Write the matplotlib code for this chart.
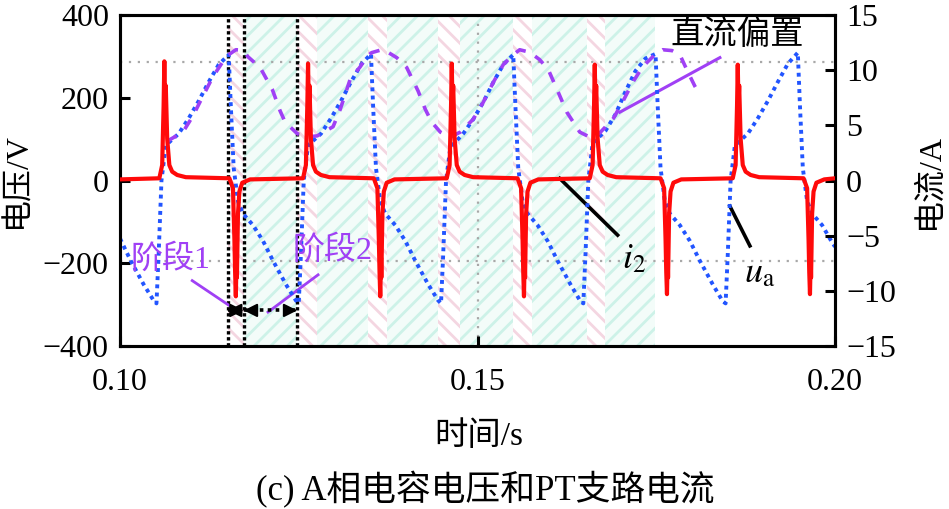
import numpy as np
import matplotlib
matplotlib.use("Agg")
import matplotlib.pyplot as plt

plt.rcParams['font.family'] = ['Liberation Serif', 'Noto Sans CJK SC', 'DejaVu Sans']
plt.rcParams['mathtext.fontset'] = 'stix'
plt.rcParams['hatch.linewidth'] = 2.0
plt.rcParams['axes.unicode_minus'] = True

# u_a: capacitor voltage (V)
ua_t = [0.1000, 0.1015, 0.1033, 0.1047,
        0.1051, 0.1054, 0.1058, 0.1064, 0.1082, 0.1096, 0.1110, 0.1124, 0.1138, 0.1152,
        0.1155, 0.1159, 0.1165, 0.1172, 0.1186, 0.1200, 0.1214, 0.1232, 0.1246,
        0.1250, 0.1253, 0.1257, 0.1263, 0.1281, 0.1295, 0.1309, 0.1323, 0.1337, 0.1351,
        0.1354, 0.1358, 0.1364, 0.1371, 0.1385, 0.1399, 0.1413, 0.1431, 0.1445,
        0.1449, 0.1452, 0.1456, 0.1462, 0.1480, 0.1494, 0.1508, 0.1522, 0.1536, 0.1550,
        0.1553, 0.1557, 0.1563, 0.1570, 0.1584, 0.1598, 0.1612, 0.1630, 0.1644,
        0.1648, 0.1651, 0.1655, 0.1661, 0.1679, 0.1693, 0.1707, 0.1721, 0.1735, 0.1749,
        0.1752, 0.1756, 0.1762, 0.1769, 0.1783, 0.1797, 0.1811, 0.1829, 0.1843,
        0.1847, 0.1850, 0.1854, 0.1860, 0.1878, 0.1892, 0.1906, 0.1920, 0.1934, 0.1948,
        0.1951, 0.1955, 0.1961, 0.1968, 0.1982, 0.1996, 0.2000]
ua_v = [-140, -194, -251, -290,
        -297, -180, 0, 85, 113, 150, 192, 238, 280, 304,
        180, 30, -50, -80, -108, -146, -194, -251, -290,
        -297, -180, 0, 85, 113, 150, 192, 238, 280, 306,
        180, 30, -50, -80, -108, -146, -194, -251, -290,
        -297, -180, 0, 80, 113, 148, 189, 237, 280, 304,
        180, 30, -50, -80, -108, -146, -194, -251, -292,
        -297, -180, 0, 90, 120, 160, 215, 265, 295, 306,
        180, 30, -50, -80, -108, -146, -194, -251, -292,
        -297, -180, 0, 85, 113, 150, 192, 238, 282, 309,
        180, 30, -50, -80, -108, -150, -160]

# DC bias trace (dashed purple)
dc_t = [0.1066, 0.1088, 0.1102, 0.1116, 0.1130, 0.1143, 0.1152, 0.1162, 0.1172,
        0.1179, 0.1196, 0.1213, 0.1224, 0.1231, 0.1248, 0.1262, 0.1276, 0.1298,
        0.1308, 0.1322, 0.1336, 0.1345, 0.1352, 0.1368, 0.1387, 0.1401, 0.1417,
        0.1427, 0.1436, 0.1448, 0.1462, 0.1476, 0.1494, 0.1508, 0.1522, 0.1536,
        0.1550, 0.1559, 0.1573, 0.1587, 0.1599, 0.1613, 0.1625, 0.1643, 0.1657,
        0.1671, 0.1690, 0.1703, 0.1717, 0.1731, 0.1748, 0.1759, 0.1772, 0.1783,
        0.1794, 0.1804, 0.1811]
dc_v = [95, 117, 156, 204, 251, 285, 304, 316, 315,
        299, 273, 220, 168, 141, 113, 105, 108, 130,
        172, 245, 275, 299, 309, 317, 297, 273, 216,
        172, 141, 117, 105, 117, 148, 189, 237, 280,
        304, 316, 310, 292, 268, 213, 165, 117, 105,
        115, 150, 190, 237, 275, 304, 316, 314, 304,
        263, 228, 208]

# i_2: PT branch current (A)
i2_t = [0.1000,
        0.1055, 0.1059, 0.1061, 0.1062, 0.1063, 0.1064, 0.1066, 0.1069, 0.1073, 0.1080, 0.1092,
        0.1153, 0.1158, 0.1160, 0.1161, 0.1162, 0.1163, 0.11635, 0.1165, 0.1167, 0.1171, 0.1182,
        0.1256, 0.1260, 0.1262, 0.1263, 0.1264, 0.1265, 0.1267, 0.1270, 0.1274, 0.1281, 0.1293,
        0.1355, 0.1360, 0.1362, 0.1363, 0.1364, 0.1365, 0.13655, 0.1367, 0.1369, 0.1373, 0.1384,
        0.1457, 0.1461, 0.1463, 0.1464, 0.1465, 0.1466, 0.1468, 0.1471, 0.1475, 0.1482, 0.1494,
        0.1556, 0.1561, 0.1563, 0.1564, 0.1565, 0.1566, 0.15665, 0.1568, 0.1570, 0.1574, 0.1585,
        0.1657, 0.1661, 0.1663, 0.1664, 0.1665, 0.1666, 0.1668, 0.1671, 0.1675, 0.1682, 0.1694,
        0.1756, 0.1761, 0.1763, 0.1764, 0.1765, 0.1766, 0.17665, 0.1768, 0.1770, 0.1774, 0.1785,
        0.1857, 0.1861, 0.1863, 0.1864, 0.1865, 0.1866, 0.1868, 0.1871, 0.1875, 0.1882, 0.1894,
        0.1956, 0.1961, 0.1963, 0.1964, 0.1965, 0.1966, 0.19665, 0.1968, 0.1970, 0.1974, 0.1985,
        0.2000]
i2_a = [0.1,
        0.2, 1.4, 6.8, 10.8, 6.8, 8.6, 3.8, 1.4, 0.8, 0.5, 0.3,
        0.2, -0.7, -5.3, -8.3, -10.5, -7.0, -8.8, -3.0, -1.0, -0.2, 0.1,
        0.2, 1.4, 6.8, 10.6, 6.8, 8.6, 3.8, 1.4, 0.8, 0.5, 0.3,
        0.2, -0.7, -5.3, -8.3, -10.5, -7.0, -8.8, -3.0, -1.0, -0.2, 0.1,
        0.2, 1.4, 6.8, 10.6, 6.8, 8.6, 3.8, 1.4, 0.8, 0.5, 0.3,
        0.2, -0.7, -5.3, -8.3, -10.5, -7.0, -8.8, -3.0, -1.0, -0.2, 0.1,
        0.2, 1.4, 6.8, 10.5, 6.8, 8.6, 3.8, 1.4, 0.8, 0.5, 0.3,
        0.2, -0.7, -5.3, -8.3, -10.3, -7.0, -8.8, -3.0, -1.0, -0.2, 0.1,
        0.2, 1.4, 6.8, 10.5, 6.8, 8.6, 3.8, 1.4, 0.8, 0.5, 0.3,
        0.2, -0.7, -5.3, -8.3, -10.3, -7.0, -8.8, -3.0, -1.0, -0.2, 0.1,
        0.2]

# shaded stage bands
pink_bands = [(0.1151, 0.1173), (0.1248, 0.1276), (0.1347, 0.1374),
              (0.1445, 0.1476), (0.1550, 0.1576), (0.1653, 0.1678)]
cyan_bands = [(0.1173, 0.1248), (0.1276, 0.1347), (0.1374, 0.1445),
              (0.1476, 0.1550), (0.1576, 0.1653), (0.1678, 0.1748)]
stage_lines = [0.1151, 0.1173, 0.1248]
grid_v = [287, -194]
arrow_y = -314

x_ticks = [0.10, 0.15, 0.20]
left_ticks = [-400, -200, 0, 200, 400]
right_ticks = [-15, -10, -5, 0, 5, 10, 15]

fig = plt.figure(figsize=(9.49, 5.09), dpi=100)
ax = fig.add_axes([120 / 949, 1 - 346 / 509, 715 / 949, 331 / 509])
ax2 = ax.twinx()

for a, b in pink_bands:
    ax.axvspan(a, b, facecolor='white', edgecolor='#f4d6e1', hatch='\\\\', lw=0, zorder=0)
for a, b in cyan_bands:
    ax.axvspan(a, b, facecolor='#f3fcf9', edgecolor='#cdf2e8', hatch='//', lw=0, zorder=0)

for g in grid_v:
    ax.axhline(g, color='#a8a8a8', lw=1.6, linestyle=(0, (1, 3)), zorder=1)
ax.axvline(0.15, color='#a8a8a8', lw=1.6, linestyle=(0, (1, 3)), zorder=1)

for s in stage_lines:
    ax.axvline(s, color='black', lw=2.4, linestyle=(0, (1, 0.8)), zorder=2)

ax.plot(ua_t, ua_v, color='#2255ff', lw=2.8, linestyle=(0, (1, 1.1)), zorder=3)
ax.plot(dc_t, dc_v, color='#a040f5', lw=2.6, linestyle=(0, (3, 3)), zorder=3)
ax2.plot(i2_t, i2_a, color='#ff0a0a', lw=3.0, zorder=4)

ax.set_xlim(0.10, 0.20)
ax.set_ylim(-400, 400)
ax2.set_ylim(-15, 15)
ax.set_xticks(x_ticks)
ax.set_xticklabels(['%.2f' % v for v in x_ticks])
ax.set_yticks(left_ticks)
ax2.set_yticks(right_ticks)

for a in (ax, ax2):
    for sp in a.spines.values():
        sp.set_linewidth(2.2)
    a.tick_params(direction='in', length=7, width=2.2, labelsize=23, pad=8)
ax.tick_params(axis='x', pad=16)

ax.set_ylabel('电压/V', fontsize=23)
ax.yaxis.set_label_coords(-0.123, 0.5)
ax2.set_ylabel('电流/A', fontsize=23)
ax2.yaxis.set_label_coords(1.112, 0.5)
fig.text(0.505, 1 - 437 / 509, '时间/s', fontsize=24, ha='center', va='center')
fig.text(0.511, 1 - 490 / 509, '(c) A相电容电压和PT支路电流', fontsize=25, ha='center', va='center')

# annotations
purple = '#a040f5'
ax.text(0.1070, -192, '阶段1', color=purple, fontsize=23, ha='center', va='center')
ax.plot([0.1101, 0.1157], [-242, -307], color=purple, lw=2.0)
ax.text(0.1297, -170, '阶段2', color=purple, fontsize=23, ha='center', va='center')
ax.plot([0.1207, 0.1277], [-318, -228], color=purple, lw=2.0)

# stage arrows: dotted shafts with solid heads
ax.plot([stage_lines[0], stage_lines[2]], [arrow_y, arrow_y], color='black', lw=2.6,
        linestyle=(0, (1, 1.2)), zorder=5)
head = dict(arrowstyle='-|>', color='black', lw=1.5, mutation_scale=20, shrinkA=0, shrinkB=0)
for tip, tail in [(stage_lines[0], stage_lines[0] + 0.0008),
                  (stage_lines[1], stage_lines[1] - 0.0008),
                  (stage_lines[1], stage_lines[1] + 0.0010),
                  (stage_lines[2], stage_lines[2] - 0.0010)]:
    ax.annotate('', xy=(tip, arrow_y), xytext=(tail, arrow_y), arrowprops=head, zorder=6)

ax.text(0.1863, 352, '直流偏置', color='black', fontsize=24, ha='center', va='center')
ax.plot([0.1699, 0.1839], [165, 297], color=purple, lw=2.2)

ax.text(0.1719, -192, r'$i_2$', fontsize=26, ha='center', va='center')
ax.plot([0.1615, 0.1696], [5, -132], color='black', lw=2.6)
ax.text(0.1895, -225, r'$u_{\mathrm{a}}$', fontsize=26, ha='center', va='center')
ax.plot([0.1853, 0.1881], [-62, -158], color='black', lw=2.6)

fig.savefig('out.png', dpi=100)
